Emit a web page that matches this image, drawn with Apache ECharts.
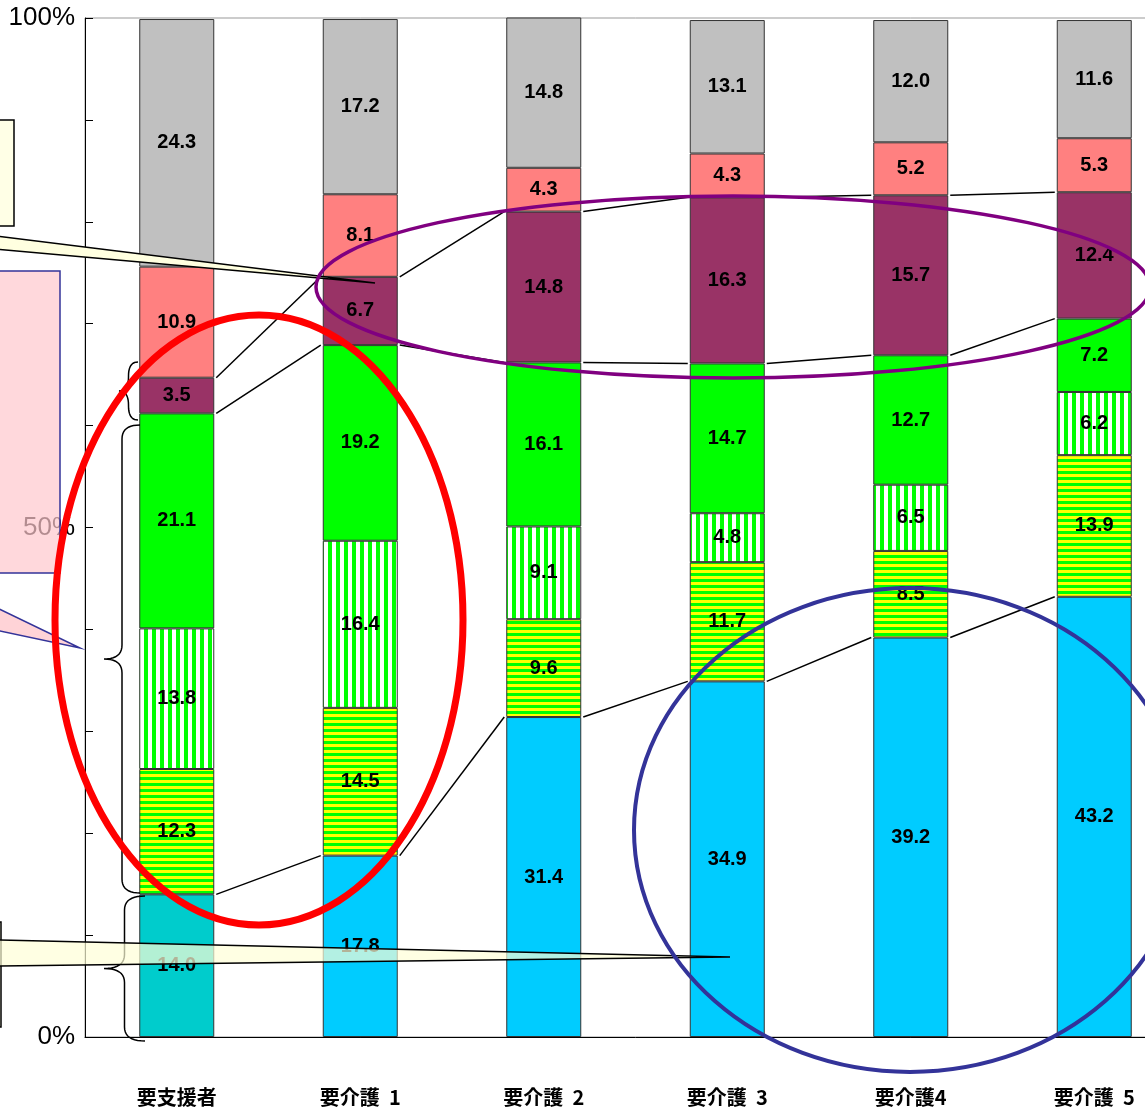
<!DOCTYPE html>
<html>
<head>
<meta charset="utf-8">
<script src="https://cdn.jsdelivr.net/npm/echarts@6/dist/echarts.min.js"></script>
<style>
  html, body { margin: 0; padding: 0; background: #fff; overflow: hidden; }
  #chart { width: 1195px; height: 1108px; }
</style>
</head>
<body>
<div id="chart"></div>
<script>
// categories along the x axis
const categories = ['要支援者', '要介護  1', '要介護  2', '要介護  3', '要介護4', '要介護  5'];

// stacked shares (%), bottom segment first
const seg1 = [14.0, 17.8, 31.4, 34.9, 39.2, 43.2];
const seg2 = [12.3, 14.5, 9.6, 11.7, 8.5, 13.9];
const seg3 = [13.8, 16.4, 9.1, 4.8, 6.5, 6.2];
const seg4 = [21.1, 19.2, 16.1, 14.7, 12.7, 7.2];
const seg5 = [3.5, 6.7, 14.8, 16.3, 15.7, 12.4];
const seg6 = [10.9, 8.1, 4.3, 4.3, 5.2, 5.3];
const seg7 = [24.3, 17.2, 14.8, 13.1, 12.0, 11.6];

// y axis labels shown
const yLabelValues = [0, 50, 100];

// segments joined by connector lines (cumulative count of segments)
const connectorLevels = [1, 4, 5];

const segments = [seg1, seg2, seg3, seg4, seg5, seg6, seg7];
const BAR_W = 75;

// Hatched fills
function makePattern(w, h, draw) {
  const c = document.createElement('canvas');
  c.width = w;
  c.height = h;
  draw(c.getContext('2d'));
  return c;
}
const vStripe = makePattern(8, 8, g => {
  g.fillStyle = '#ffffff'; g.fillRect(0, 0, 8, 8);
  g.fillStyle = '#00ff00'; g.fillRect(0, 0, 4, 8);
});
const hStripe = makePattern(6, 6, g => {
  g.fillStyle = '#ffff00'; g.fillRect(0, 0, 6, 6);
  g.fillStyle = '#00ff00'; g.fillRect(0, 3, 6, 3);
});

const segColors = [
  null,
  { image: hStripe, repeat: 'repeat' },
  { image: vStripe, repeat: 'repeat' },
  '#00ff00',
  '#993366',
  '#ff8080',
  '#c0c0c0'
];

const series = segments.map((vals, si) => ({
  name: 'seg' + (si + 1),
  type: 'bar',
  stack: 'total',
  barWidth: BAR_W,
  data: vals.map((v, ci) => {
    if (si === 0) {
      return { value: v, itemStyle: { color: ci === 0 ? '#00cccc' : '#00ccff' } };
    }
    return v;
  }),
  itemStyle: {
    color: segColors[si] || '#00ccff',
    borderColor: '#333',
    borderWidth: 1
  },
  label: {
    show: true,
    position: 'inside',
    formatter: p => Number(p.value).toFixed(1),
    color: '#000',
    fontSize: 20,
    fontWeight: 'bold',
    fontFamily: 'Liberation Sans Narrow, Liberation Sans, Arial, sans-serif'
  }
}));

const chart = echarts.init(document.getElementById('chart'));

chart.setOption({
  animation: false,
  backgroundColor: '#fff',
  grid: {
    left: 85,
    top: 18,
    width: 1101,
    height: 1019,
    show: true,
    borderColor: '#999',
    borderWidth: 1,
    backgroundColor: 'transparent'
  },
  xAxis: {
    type: 'category',
    data: categories,
    axisLine: { lineStyle: { color: '#000', width: 1 } },
    axisTick: { inside: true, length: 14, lineStyle: { color: '#333' } },
    axisLabel: {
      margin: 50,
      color: '#000',
      fontSize: 20,
      fontWeight: 'bold',
      fontFamily: 'Noto Sans CJK JP, sans-serif'
    },
    splitLine: { show: false }
  },
  yAxis: {
    type: 'value',
    min: 0,
    max: 100,
    interval: 10,
    axisLine: { show: true, lineStyle: { color: '#000', width: 1 } },
    axisTick: { show: true, inside: true, length: 8, lineStyle: { color: '#000' } },
    axisLabel: {
      margin: 10,
      color: '#000',
      fontSize: 26,
      fontFamily: 'Liberation Sans, Arial, sans-serif',
      formatter: v => (yLabelValues.indexOf(v) >= 0 ? v + '%' : '')
    },
    splitLine: { show: false }
  },
  series: series
});

// connector lines between neighbouring bars at the same cumulative level
function cumulative(ci, level) {
  let s = 0;
  for (let k = 0; k < level; k++) s += segments[k][ci];
  return s;
}
const graphics = [];
connectorLevels.forEach(level => {
  for (let ci = 0; ci < categories.length - 1; ci++) {
    const a = chart.convertToPixel({ seriesIndex: 0 }, [ci, cumulative(ci, level)]);
    const b = chart.convertToPixel({ seriesIndex: 0 }, [ci + 1, cumulative(ci + 1, level)]);
    graphics.push({
      type: 'line',
      z: 50,
      shape: { x1: a[0] + BAR_W / 2 + 2, y1: a[1], x2: b[0] - BAR_W / 2 - 2, y2: b[1] },
      style: { stroke: '#000', lineWidth: 1.5 }
    });
  }
});

// curly brace as a sampled polyline, tip pointing left
function quad(p0, p1, p2, out) {
  for (let i = 0; i <= 10; i++) {
    const t = i / 10, u = 1 - t;
    out.push([u * u * p0[0] + 2 * u * t * p1[0] + t * t * p2[0],
              u * u * p0[1] + 2 * u * t * p1[1] + t * t * p2[1]]);
  }
}
function brace(xTip, xEnd, y1, y2) {
  const xm = (xTip + xEnd) / 2;
  const ym = (y1 + y2) / 2;
  const r = Math.min(14, (y2 - y1) / 4);
  const pts = [];
  quad([xEnd, y1], [xm, y1], [xm, y1 + r], pts);
  quad([xm, ym - r], [xm, ym], [xTip, ym], pts);
  quad([xTip, ym], [xm, ym], [xm, ym + r], pts);
  quad([xm, y2 - r], [xm, y2], [xEnd, y2], pts);
  return pts;
}
[[119, 138, 362, 420], [104, 140, 425, 893], [104, 145, 896, 1041]].forEach(b => {
  graphics.push({
    type: 'polyline',
    z: 60,
    shape: { points: brace(b[0], b[1], b[2], b[3]) },
    style: { fill: null, stroke: '#000', lineWidth: 1.5 }
  });
});

// callouts
graphics.push(
  {
    type: 'rect', z: 70,
    shape: { x: -20, y: 120, width: 34, height: 106 },
    style: { fill: '#ffffe6', stroke: '#000', lineWidth: 1.5 }
  },
  {
    type: 'polygon', z: 70,
    shape: { points: [[-5, 236], [375, 283], [-5, 249]] },
    style: { fill: '#ffffe0', stroke: '#000', lineWidth: 1.5 }
  },
  {
    type: 'rect', z: 70,
    shape: { x: -20, y: 271, width: 80, height: 302 },
    style: { fill: 'rgba(255,200,205,0.7)', stroke: '#333399', lineWidth: 1.5 }
  },
  {
    type: 'polygon', z: 70,
    shape: { points: [[-5, 607], [80, 648], [-5, 630]] },
    style: { fill: 'rgba(255,200,205,0.8)', stroke: '#333399', lineWidth: 1.5 }
  },
  {
    type: 'rect', z: 70,
    shape: { x: -30, y: 922, width: 31, height: 105 },
    style: { fill: '#ffffe6', stroke: '#000', lineWidth: 1.5 }
  },
  {
    type: 'polygon', z: 70,
    shape: { points: [[-5, 940], [730, 957], [-5, 966]] },
    style: { fill: 'rgba(255,255,215,0.7)', stroke: '#000', lineWidth: 1.5 }
  }
);

// highlight ellipses
graphics.push(
  {
    type: 'ellipse', z: 80,
    shape: { cx: 259, cy: 620, rx: 204, ry: 305 },
    style: { fill: null, stroke: '#ff0000', lineWidth: 7 }
  },
  {
    type: 'ellipse', z: 80,
    shape: { cx: 733, cy: 287, rx: 417, ry: 91 },
    style: { fill: null, stroke: '#800080', lineWidth: 3.5 }
  },
  {
    type: 'ellipse', z: 80,
    shape: { cx: 910, cy: 830, rx: 276, ry: 242 },
    style: { fill: null, stroke: '#333399', lineWidth: 4 }
  }
);

chart.setOption({ graphic: graphics });
</script>
</body>
</html>
